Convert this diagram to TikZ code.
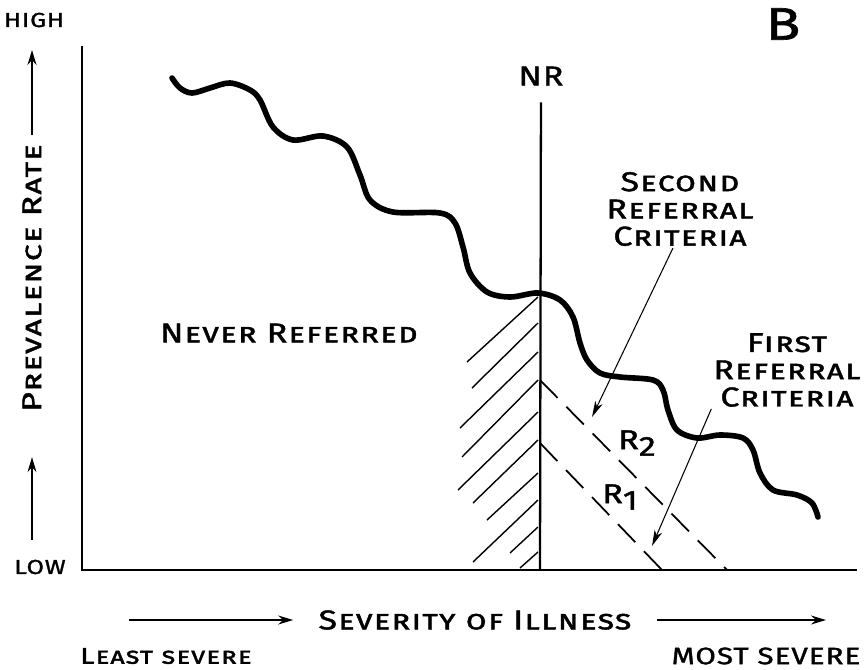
\documentclass[tikz,border=0pt]{standalone}
\usepackage{fontspec}
\setmainfont{Fira Sans}[FakeStretch=1.25,LetterSpace=4,FakeBold=1.5]
\usetikzlibrary{arrows.meta}

\begin{document}
\begin{tikzpicture}[
    x=0.02cm,
    y=-0.02cm,
    font=\fontsize{15.5}{15.5}\selectfont\scshape,
    axis/.style={line width=1.3pt},
    curve/.style={line width=3.2pt, line cap=round, line join=round},
    hatch/.style={line width=0.8pt},
    crit/.style={line width=1pt, dash pattern=on 0.5cm off 0.25cm},
    pointer/.style={-{Stealth[length=3.2mm,width=1.6mm,inset=0.9mm]}, line width=0.6pt},
    scalearrow/.style={-{Stealth[length=3mm,width=1.8mm,inset=1mm]}, line width=0.9pt},
    lbl/.style={inner sep=1pt, align=center},
    small/.style={font=\fontsize{11.5}{13}\selectfont}
  ]
  % frame in pixel units of the original drawing (864 x 669)
  \useasboundingbox (0,0) rectangle (864,669);

  % --- Axes ---
  \coordinate (origin) at (82,570);
  \coordinate (ytop)   at (82,46);
  \coordinate (xend)   at (857,570);
  \draw[axis] (ytop) -- (origin) -- (xend);

  \node[lbl, small] (high) at (34,20)  {HIGH};
  \node[lbl, small] (low)  at (40,567) {LOW};
  \node[lbl, font=\fontsize{26}{28}\selectfont] (panel) at (783,24) {B};

  % vertical scale label
  \node[lbl, rotate=90, inner xsep=0.18cm] (ylab) at (32,278) {Prevalence Rate};
  \coordinate (yhigh) at (32,50);
  \coordinate (ylow)  at (32,540);
  \draw[scalearrow] (ylab) -- (yhigh);
  \draw[scalearrow, shorten >=0.72cm] (ylow) -- (ylab);

  % horizontal scale label
  \node[lbl, inner xsep=0.5cm] (sev) at (475,620) {Severity of Illness};
  \coordinate (sevL) at (129,620);
  \coordinate (sevR) at (826,620);
  \draw[scalearrow] (sevL) -- (sev);
  \draw[scalearrow] (sev) -- (sevR);

  \node[lbl, font=\fontsize{13}{15}\selectfont\scshape] (least) at (166,656) {Least severe};
  \node[lbl, font=\fontsize{13.5}{15}\selectfont] (most) at (766,656) {MOST SEVERE};

  % --- Prevalence curve ---
  \draw[curve] plot[smooth, tension=0.55] coordinates {
    (172,78) (180,88) (192,93) (210,88) (230,83) (250,90) (260,100)
    (273,127) (293,140) (323,136) (347,147) (360,175) (370,200)
    (393,212) (440,213) (455,223) (463,247) (470,273) (487,292)
    (510,297) (538,293) (560,300) (573,317) (580,343) (587,360)
    (600,373) (620,377) (653,380) (663,390) (668,410) (677,430)
    (697,438) (720,435) (743,438) (753,450) (760,473) (773,490)
    (797,495) (812,503) (818,517)};

  % --- Never referred boundary ---
  \node[lbl] (nr) at (541,76) {NR};
  \coordinate (nrfoot) at (540,570);
  \draw[axis, shorten <=0.3cm] (nr) -- (nrfoot);

  % hatching left of NR
  \foreach \ya/\xb/\yb in {297/467/362, 323/472/388, 352/460/428, 380/462/457,
      412/458/490, 440/473/503, 473/487/520, 500/473/562, 527/510/553, 552/520/568}
    \draw[hatch] (538,\ya) -- (\xb,\yb);

  \node[lbl] (never) at (289,333) {Never Referred};

  % --- Referral criteria ---
  \coordinate (r2top)  at (540,380);
  \coordinate (r2foot) at (727,570);
  \coordinate (r1top)  at (540,443);
  \coordinate (r1foot) at (662,570);
  \draw[crit] (r2top) -- (r2foot);
  \draw[crit] (r1top) -- (r1foot);

  \node[lbl] (rtwo) at (637,443) {R\raisebox{-0.45ex}{2}};
  \node[lbl] (rone) at (620,497) {R\raisebox{-0.45ex}{1}};

  \node[lbl] (second) at (680,209) {Second\\Referral\\Criteria};
  \node[lbl] (first)  at (787,370) {First\\Referral\\Criteria};
  \coordinate (sectip)   at (592,417);
  \coordinate (firsttip) at (652,546);
  \draw[pointer] ([xshift=-4pt]second.south) -- (sectip);
  \draw[pointer] (first.south west) -- (firsttip);

\end{tikzpicture}
\end{document}
